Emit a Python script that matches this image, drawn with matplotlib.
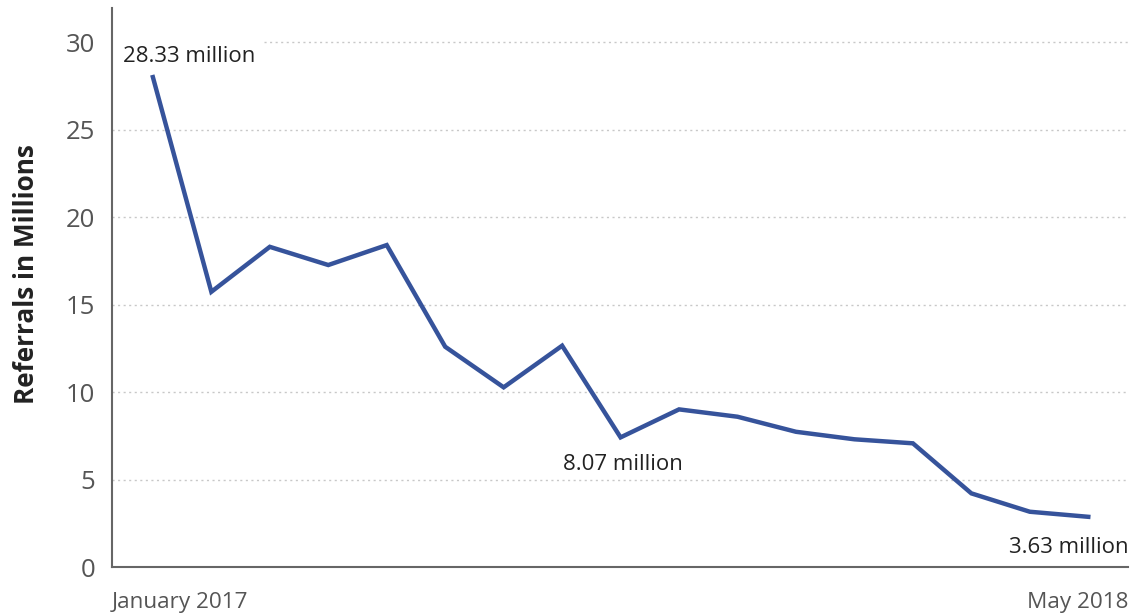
import matplotlib.pyplot as plt

# monthly referrals, January 2017 .. May 2018
months = list(range(17))
referrals = [28.0, 15.73, 18.3, 17.26, 18.4, 12.59, 10.27, 12.65, 7.41,
             9.01, 8.59, 7.73, 7.30, 7.07, 4.21, 3.16, 2.87]
yticks = [0, 5, 10, 15, 20, 25, 30]
first_label = "January 2017"
last_label = "May 2018"
notes = [(0, "28.33 million"), (8, "8.07 million"), (16, "3.63 million")]

plt.rcParams['font.family'] = ['Open Sans', 'DejaVu Sans']

fig = plt.figure(figsize=(11.32, 6.15), dpi=100)
ax = fig.add_axes([0.0989, 0.078, 0.8976, 0.909])

ax.plot(months, referrals, color='#36539b', linewidth=3.2,
        solid_joinstyle='miter', zorder=3)

ax.set_xlim(-0.70, 16.68)
ax.set_ylim(0, 31.95)

# dotted gridlines (the top one leaves room for the first label)
for y in yticks[1:]:
    xmin = 0.15 if y == 30 else 0
    ax.axhline(y, xmin=xmin, xmax=1, color='#c8c8c8', linewidth=1.0,
               linestyle=(0, (1.5, 2.5)), zorder=1)

ax.set_yticks(yticks)
ax.set_yticklabels([str(t) for t in yticks], fontsize=18.5, color='#555555')
ax.tick_params(axis='y', length=0, pad=12)
ax.set_xticks([])

ax.text(0, -0.045, first_label, transform=ax.transAxes, ha='left', va='top',
        fontsize=16.2, color='#555555')
ax.text(1, -0.045, last_label, transform=ax.transAxes, ha='right', va='top',
        fontsize=16.2, color='#555555')

for sp in ['top', 'right']:
    ax.spines[sp].set_visible(False)
for sp in ['left', 'bottom']:
    ax.spines[sp].set_color('#666666')
    ax.spines[sp].set_linewidth(1.5)

ax.set_ylabel('Referrals in Millions', fontsize=18.8, fontweight='bold',
              color='#222222')
ax.yaxis.set_label_coords(-0.071, 0.524)

# value annotations (offsets in points)
i, txt = notes[0]
ax.annotate(txt, (i, referrals[i]), xytext=(-21.6, 10.6), textcoords='offset points',
            ha='left', va='baseline', fontsize=16, color='#222222')
i, txt = notes[1]
ax.annotate(txt, (i, referrals[i]), xytext=(1.4, -23.8), textcoords='offset points',
            ha='center', va='baseline', fontsize=16, color='#222222')
i, txt = notes[2]
ax.annotate(txt, (i, referrals[i]), xytext=(28.8, -26), textcoords='offset points',
            ha='right', va='baseline', fontsize=16, color='#222222')

fig.savefig('out.png', dpi=100)
